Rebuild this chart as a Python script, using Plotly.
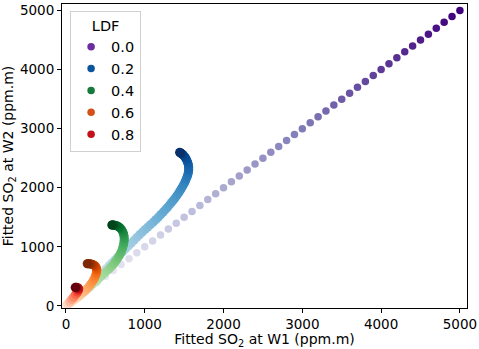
import plotly.graph_objects as go
from plotly.colors import sequential, make_colorscale

# ---- data ----
ldf_labels = ["0.0", "0.2", "0.4", "0.6", "0.8"]

ldf00_x = [0, 100, 200, 300, 400, 500, 600, 700, 800, 900, 1000, 1100, 1200, 1300, 1400,
           1500, 1600, 1700, 1800, 1900, 2000, 2100, 2200, 2300, 2400, 2500, 2600, 2700,
           2800, 2900, 3000, 3100, 3200, 3300, 3400, 3500, 3600, 3700, 3800, 3900, 4000,
           4100, 4200, 4300, 4400, 4500, 4600, 4700, 4800, 4900, 5000]
ldf00_y = [0, 100, 200, 300, 400, 500, 600, 700, 800, 900, 1000, 1100, 1200, 1300, 1400,
           1500, 1600, 1700, 1800, 1900, 2000, 2100, 2200, 2300, 2400, 2500, 2600, 2700,
           2800, 2900, 3000, 3100, 3200, 3300, 3400, 3500, 3600, 3700, 3800, 3900, 4000,
           4100, 4200, 4300, 4400, 4500, 4600, 4700, 4800, 4900, 5000]

ldf02_x = [0, 30, 60, 95, 130, 165, 200, 235, 270, 305, 340, 375, 410, 445, 480, 515, 550,
           585, 620, 655, 690, 725, 760, 795, 830, 865, 900, 935, 970, 1005, 1040, 1075,
           1110, 1143, 1175, 1205, 1235, 1263, 1290, 1315, 1340, 1363, 1385, 1405, 1425,
           1443, 1460, 1475, 1490, 1503, 1515, 1525, 1535, 1543, 1550, 1554, 1557, 1558,
           1558, 1556, 1553, 1548, 1543, 1537, 1530, 1523, 1515, 1507, 1498, 1489, 1480,
           1472, 1465, 1458, 1452, 1447, 1443]
ldf02_y = [0, 30, 62, 98, 135, 175, 215, 257, 300, 347, 395, 442, 490, 537, 585, 635, 685,
           732, 780, 827, 875, 922, 970, 1017, 1065, 1112, 1160, 1205, 1250, 1293, 1335,
           1378, 1420, 1463, 1505, 1548, 1590, 1630, 1670, 1710, 1750, 1788, 1825, 1862,
           1900, 1938, 1975, 2010, 2045, 2078, 2110, 2143, 2175, 2205, 2235, 2263, 2290,
           2315, 2340, 2365, 2390, 2413, 2435, 2455, 2475, 2493, 2510, 2525, 2540, 2552,
           2563, 2572, 2580, 2586, 2592, 2596, 2600]

ldf04_x = [0, 30, 60, 90, 120, 150, 180, 212, 245, 278, 310, 340, 371, 400, 430, 460, 490,
           520, 550, 575, 600, 620, 640, 658, 675, 690, 705, 716, 725, 732, 737, 739, 740,
           738, 736, 731, 725, 717, 708, 698, 688, 677, 665, 653, 640, 628, 615, 605, 595,
           588, 582]
ldf04_y = [0, 30, 60, 90, 120, 152, 185, 220, 256, 293, 330, 368, 405, 443, 480, 518, 555,
           593, 630, 665, 700, 735, 770, 808, 845, 885, 925, 965, 1005, 1043, 1080, 1110,
           1140, 1168, 1195, 1220, 1245, 1267, 1288, 1305, 1320, 1332, 1343, 1351, 1358,
           1363, 1367, 1369, 1370, 1370, 1370]

ldf06_x = [0, 25, 50, 75, 100, 125, 150, 175, 200, 225, 250, 273, 295, 313, 330, 346, 360,
           371, 380, 386, 390, 391, 390, 386, 380, 372, 362, 352, 340, 328, 315, 302, 290,
           280, 270]
ldf06_y = [0, 22, 45, 70, 95, 122, 150, 177, 205, 235, 265, 297, 330, 362, 395, 428, 460,
           493, 525, 553, 580, 603, 625, 643, 660, 673, 685, 693, 700, 706, 710, 713, 714,
           714, 714]

ldf08_x = [0, 25, 50, 75, 100, 125, 145, 158, 160, 150, 135, 120]
ldf08_y = [0, 35, 70, 110, 150, 195, 235, 268, 290, 305, 312, 312]

legend_colors = ["#6a2c9e", "#0b559f", "#157a3b", "#d4501a", "#c4121b"]

series = [
    (ldf00_x, ldf00_y, sequential.Purples, 7.5),
    (ldf02_x, ldf02_y, sequential.Blues, 9),
    (ldf04_x, ldf04_y, sequential.Greens, 9),
    (ldf06_x, ldf06_y, sequential.Oranges, 9),
    (ldf08_x, ldf08_y, sequential.Reds, 9.5),
]

fig = go.Figure()
for (xs, ys, cmap, sz) in series:
    n = len(xs)
    order = list(range(n))
    fig.add_trace(go.Scatter(
        x=xs, y=ys, mode="markers", showlegend=False, hoverinfo="skip",
        marker=dict(size=sz, color=order, colorscale=make_colorscale(cmap),
                    cmin=-0.08 * (n - 1), cmax=n - 1, line=dict(width=0)),
    ))

for i, (lab, col) in enumerate(zip(ldf_labels, legend_colors)):
    fig.add_trace(go.Scatter(
        x=[None], y=[None], mode="markers", name=lab,
        marker=dict(size=7.5, color=col), showlegend=True,
    ))

font = "DejaVu Sans"
axis_common = dict(
    showline=True, linecolor="black", linewidth=1, mirror=True,
    ticks="outside", ticklen=4, tickwidth=1, tickcolor="black",
    showgrid=False, zeroline=False,
    tickfont=dict(family=font, size=13.5, color="black"),
    tickvals=[0, 1000, 2000, 3000, 4000, 5000],
)
fig.update_xaxes(range=[-50, 5090],
                 title=dict(text="Fitted SO<sub>2</sub> at W1 (ppm.m)",
                            font=dict(family=font, size=14, color="black"), standoff=5),
                 **axis_common)
fig.update_yaxes(range=[-35, 5110],
                 title=dict(text="Fitted SO<sub>2</sub> at W2 (ppm.m)",
                            font=dict(family=font, size=14, color="black"), standoff=5),
                 **axis_common)

fig.update_layout(
    width=479, height=349,
    margin=dict(l=62, r=11, t=2, b=40),
    paper_bgcolor="white", plot_bgcolor="white",
    font=dict(family=font, size=14, color="black"),
    legend=dict(
        x=0.02, y=0.977, xanchor="left", yanchor="top",
        bgcolor="white", bordercolor="#d0d0d0", borderwidth=1,
        font=dict(family=font, size=14.5, color="black"),
        title=dict(text="LDF", side="top center", font=dict(family=font, size=14.5)),
        tracegroupgap=0,
    ),
)

fig.write_html("out.html", config={"displayModeBar": False},
               post_script="document.body.style.margin='0';")
